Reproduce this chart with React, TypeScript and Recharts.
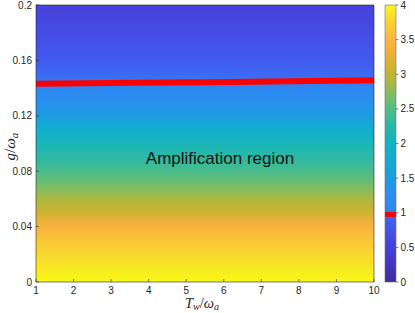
import React from "react";
import { ComposedChart, XAxis, YAxis, Line, ReferenceArea, ReferenceDot } from "recharts";

// Gain map G(g, Tw): read along g/ωa, it hardly changes with Tw/ωa.
const gLevels = [0, 0.01, 0.02, 0.03, 0.04, 0.05, 0.06, 0.07, 0.08, 0.09, 0.1, 0.11, 0.12, 0.13, 0.14, 0.15, 0.16, 0.17, 0.18, 0.19, 0.2];
const gainLevels = [4.0, 3.9, 3.78, 3.65, 3.45, 3.1, 2.9, 2.65, 2.45, 2.28, 2.1, 1.85, 1.5, 1.28, 1.08, 0.95, 0.84, 0.75, 0.67, 0.6, 0.54];

// G = 1 contour (red line)
const contourTw = [1, 5.5, 10];
const contourG = [0.1432, 0.1443, 0.1456];

const twTicks = [1, 2, 3, 4, 5, 6, 7, 8, 9, 10];
const gTicks = [0, 0.04, 0.08, 0.12, 0.16, 0.2];
const barTicks = [0, 0.5, 1, 1.5, 2, 2.5, 3, 3.5, 4];

// colormap (parula-like) with the red marker at G = 1
const cmap: [number, string][] = [
  [0, "#3e2a9c"],
  [0.3, "#4536c6"],
  [0.6, "#4646e0"],
  [0.94, "#3f64f4"],
  [1.01, "#2e84f0"],
  [1.25, "#2a8ef0"],
  [1.5, "#1c9ee0"],
  [1.75, "#12aad4"],
  [2.0, "#10b4c6"],
  [2.25, "#26b9a8"],
  [2.5, "#52bd84"],
  [2.75, "#8abd5a"],
  [3.0, "#c2b430"],
  [3.25, "#e8b034"],
  [3.5, "#fcb440"],
  [3.75, "#f8d232"],
  [4.0, "#f8f818"],
];

const hex = (h: string) => [1, 3, 5].map((i) => parseInt(h.slice(i, i + 2), 16));

function colorAt(v: number) {
  if (v <= cmap[0][0]) return cmap[0][1];
  for (let i = 0; i < cmap.length - 1; i++) {
    const [v0, c0] = cmap[i];
    const [v1, c1] = cmap[i + 1];
    if (v <= v1) {
      const t = (v - v0) / (v1 - v0);
      const a = hex(c0);
      const b = hex(c1);
      return `rgb(${a.map((x, k) => Math.round(x + (b[k] - x) * t)).join(",")})`;
    }
  }
  return cmap[cmap.length - 1][1];
}

const contour = contourTw.map((tw, i) => ({ tw, g: contourG[i] }));
const barData = barTicks.map((v) => ({ pos: 0.5, v }));

const tickStyle = { fill: "#262626", fontSize: 10, fontFamily: "'Liberation Sans', Arial, sans-serif" };
const mathFont = "'Liberation Serif', 'Times New Roman', serif";
const axisStroke = { stroke: "#262626", strokeWidth: 0.6 };

function XTitle(props: any) {
  const { x, y, width } = props.viewBox;
  return (
    <text x={x + width / 2 - 3} y={y + 26} textAnchor="middle" fontFamily={mathFont} fontSize={14.5} fill="#262626">
      <tspan fontStyle="italic">T</tspan>
      <tspan fontStyle="italic" fontSize={10} dy={2}>w</tspan>
      <tspan dy={-2}>/</tspan>
      <tspan fontStyle="italic">ω</tspan>
      <tspan fontStyle="italic" fontSize={10} dy={2}>a</tspan>
    </text>
  );
}

function YTitle(props: any) {
  const { y, height } = props.viewBox;
  const cx = 15;
  const cy = y + height / 2 + 3;
  return (
    <text transform={`rotate(-90 ${cx} ${cy})`} x={cx} y={cy} textAnchor="middle" fontFamily={mathFont} fontSize={15} fill="#262626">
      <tspan fontStyle="italic">g</tspan>
      <tspan>/</tspan>
      <tspan fontStyle="italic">ω</tspan>
      <tspan fontStyle="italic" fontSize={11} dy={3}>a</tspan>
    </text>
  );
}

export default function App() {
  const heatStops = gLevels
    .map((g, i) => ({ off: (0.2 - g) / 0.2, c: colorAt(gainLevels[i]) }))
    .reverse();
  const barStops = cmap.map(([v, c]) => ({ off: (4 - v) / 4, c })).reverse();

  return (
    <div style={{ position: "absolute", left: 0, top: 0, width: 415, height: 313, background: "#fff" }}>
      <div style={{ position: "absolute", left: 0, top: 0 }}>
        <ComposedChart width={415} height={313} margin={{ top: 4, right: 40, bottom: 0, left: 0 }}>
          <defs>
            <linearGradient id="heat" x1="0" y1="0" x2="0" y2="1">
              {heatStops.map((s, i) => (
                <stop key={i} offset={s.off} stopColor={s.c} />
              ))}
            </linearGradient>
          </defs>
          <ReferenceArea x1={1} x2={10} y1={0} y2={0.2} fill="url(#heat)" fillOpacity={1} stroke="none" />
          <Line
            data={contour}
            dataKey="g"
            type="monotone"
            stroke="#ff0000"
            strokeWidth={6}
            dot={false}
            isAnimationActive={false}
          />
          <ReferenceDot
            x={5.9}
            y={0.0899}
            r={0}
            fill="none"
            stroke="none"
            label={{
              value: "Amplification region",
              position: "center",
              fill: "#111",
              fontSize: 17,
              fontFamily: "'Liberation Sans', Arial, sans-serif",
            }}
          />
          <XAxis
            dataKey="tw"
            type="number"
            domain={[1, 10]}
            ticks={twTicks}
            allowDataOverflow
            height={31}
            tickSize={-3}
            tickMargin={8}
            tick={tickStyle}
            axisLine={axisStroke}
            tickLine={axisStroke}
            label={{ content: XTitle }}
          />
          <XAxis
            xAxisId="top"
            orientation="top"
            type="number"
            domain={[1, 10]}
            ticks={twTicks}
            allowDataOverflow
            height={1}
            tickSize={-3}
            tick={false}
            axisLine={axisStroke}
            tickLine={axisStroke}
          />
          <YAxis
            type="number"
            domain={[0, 0.2]}
            ticks={gTicks}
            allowDataOverflow
            width={36}
            tickSize={-3}
            tickMargin={7}
            tick={tickStyle}
            axisLine={axisStroke}
            tickLine={axisStroke}
            label={{ content: YTitle }}
          />
          <YAxis
            yAxisId="right"
            orientation="right"
            type="number"
            domain={[0, 0.2]}
            ticks={gTicks}
            allowDataOverflow
            width={1}
            tickSize={-3}
            tick={false}
            axisLine={axisStroke}
            tickLine={axisStroke}
          />
        </ComposedChart>
      </div>
      <div style={{ position: "absolute", left: 0, top: 0 }}>
        <ComposedChart data={barData} width={415} height={313} margin={{ top: 5, right: 0, bottom: 31, left: 385 }}>
          <defs>
            <linearGradient id="cbar" x1="0" y1="0" x2="0" y2="1">
              {barStops.map((s, i) => (
                <stop key={i} offset={s.off} stopColor={s.c} />
              ))}
            </linearGradient>
          </defs>
          <XAxis dataKey="pos" type="number" domain={[0, 1]} allowDataOverflow hide />
          <ReferenceArea x1={0} x2={1} y1={0} y2={4} fill="url(#cbar)" fillOpacity={1} stroke="#6e6e6e" strokeWidth={0.6} ifOverflow="visible" />
          <ReferenceArea x1={0} x2={1} y1={0.94} y2={1.01} fill="#ff0000" fillOpacity={1} stroke="none" ifOverflow="visible" />
          <YAxis
            dataKey="v"
            orientation="right"
            type="number"
            domain={[0, 4]}
            ticks={barTicks}
            allowDataOverflow
            width={19}
            tickSize={2.5}
            tickMargin={2}
            tick={tickStyle}
            axisLine={false}
            tickLine={axisStroke}
          />
        </ComposedChart>
      </div>
    </div>
  );
}
